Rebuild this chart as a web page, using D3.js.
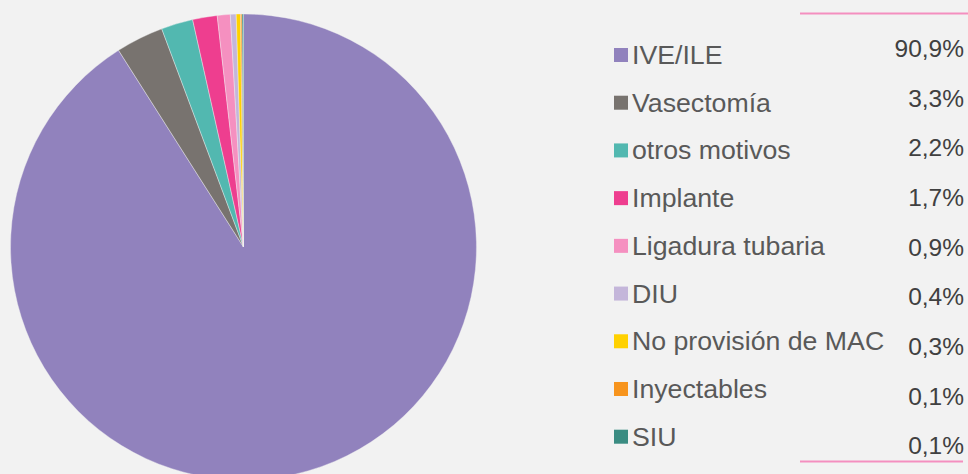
<!DOCTYPE html>
<html>
<head>
<meta charset="utf-8">
<script src="https://cdn.jsdelivr.net/npm/d3@7"></script>
<style>
  html, body { margin: 0; padding: 0; background: #f2f2f2; }
  svg { display: block; font-family: "Liberation Sans", Arial, sans-serif; }
</style>
</head>
<body>
<div id="chart"></div>
<script>
// Datos
const categories = ['IVE/ILE', 'Vasectomía', 'otros motivos', 'Implante', 'Ligadura tubaria',
                    'DIU', 'No provisión de MAC', 'Inyectables', 'SIU'];
const values = [90.9, 3.3, 2.2, 1.7, 0.9, 0.4, 0.3, 0.1, 0.1];
const valueLabels = ['90,9%', '3,3%', '2,2%', '1,7%', '0,9%', '0,4%', '0,3%', '0,1%', '0,1%'];
const colors = ['#9182bd', '#78736f', '#52b8b0', '#ee3e8f', '#f590c0',
                '#c4b6da', '#ffd100', '#f7941d', '#3a8c82'];

const width = 968, height = 474;

const svg = d3.select('#chart')
    .append('svg')
    .attr('width', width)
    .attr('height', height);

svg.append('rect')
    .attr('width', width)
    .attr('height', height)
    .attr('fill', '#f2f2f2');

// Torta
const cx = 243.5, cy = 247, r = 233;
const data = categories.map((c, i) => ({ name: c, value: values[i], color: colors[i] }));

const pie = d3.pie()
    .sort(null)
    .value(d => d.value);

const arc = d3.arc()
    .innerRadius(0)
    .outerRadius(r);

const g = svg.append('g')
    .attr('transform', `translate(${cx},${cy})`);

g.selectAll('path')
    .data(pie(data))
    .enter()
    .append('path')
    .attr('d', arc)
    .attr('fill', d => d.data.color)
    .attr('stroke', '#f2f2f2')
    .attr('stroke-width', 0.4);

// Leyenda
const labelY = d3.scaleLinear().domain([0, 8]).range([64, 445.7]);
const valueY = d3.scaleLinear().domain([0, 8]).range([57, 454.3]);

const legend = svg.append('g');

legend.selectAll('rect')
    .data(data)
    .enter()
    .append('rect')
    .attr('x', 614)
    .attr('y', (d, i) => labelY(i) - 16)
    .attr('width', 14)
    .attr('height', 14)
    .attr('fill', d => d.color);

legend.selectAll('text.label')
    .data(data)
    .enter()
    .append('text')
    .attr('class', 'label')
    .attr('x', 632)
    .attr('y', (d, i) => labelY(i))
    .attr('fill', '#595959')
    .style('font-size', '26.7px')
    .text(d => d.name);

legend.selectAll('text.value')
    .data(valueLabels)
    .enter()
    .append('text')
    .attr('class', 'value')
    .attr('x', 964)
    .attr('y', (d, i) => valueY(i))
    .attr('text-anchor', 'end')
    .attr('fill', '#404040')
    .style('font-size', '24.5px')
    .text(d => d);

// Líneas rosadas
svg.append('line')
    .attr('x1', 800).attr('x2', 968)
    .attr('y1', 13.5).attr('y2', 13.5)
    .attr('stroke', '#f48fbf')
    .attr('stroke-width', 2);

svg.append('line')
    .attr('x1', 800).attr('x2', 963)
    .attr('y1', 461.5).attr('y2', 461.5)
    .attr('stroke', '#f48fbf')
    .attr('stroke-width', 2);
</script>
</body>
</html>
